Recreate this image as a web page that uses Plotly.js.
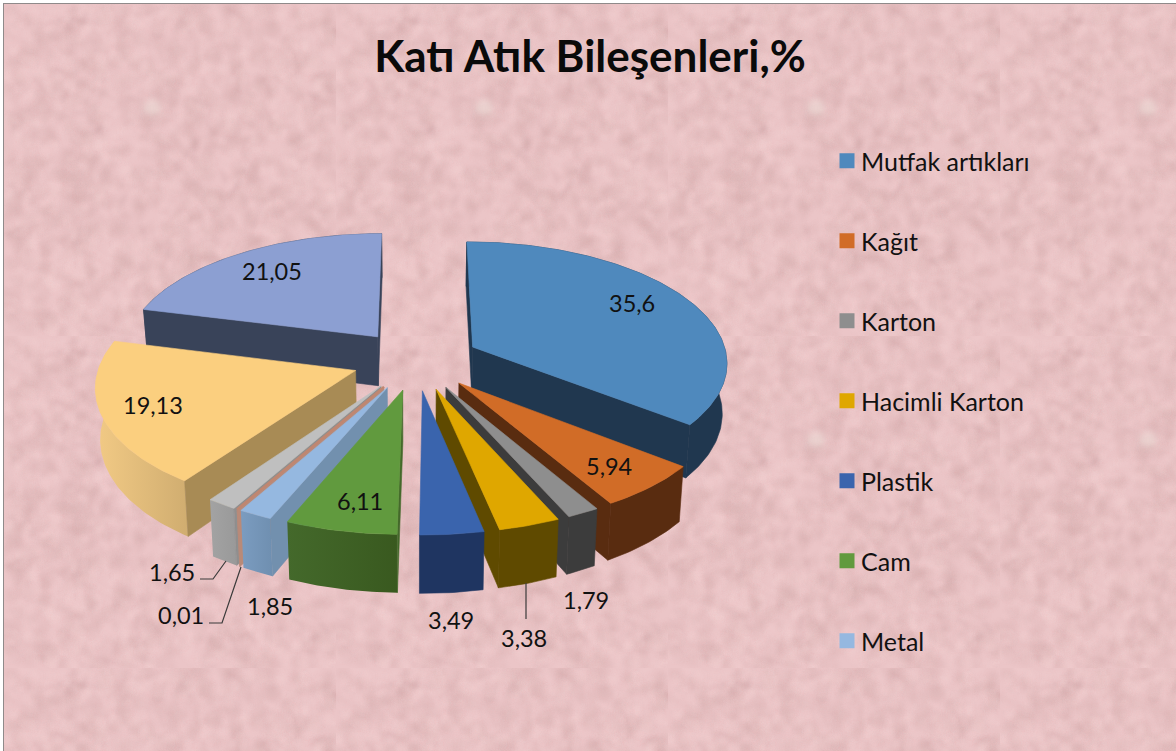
<!DOCTYPE html>
<html><head><meta charset="utf-8">
<script src="https://cdn.plot.ly/plotly-3.0.1.min.js"></script>
<style>
html,body{margin:0;padding:0;background:#fff;width:1176px;height:751px;overflow:hidden}
#panel{position:absolute;left:3px;top:3px;width:1173px;height:748px;border-left:1.5px solid #8f8a8a;border-top:1.5px solid #8f8a8a;box-sizing:border-box}
#chart{position:absolute;left:0;top:0;width:1176px;height:751px}
</style></head><body>
<div id="panel"></div><div id="chart"></div>
<script>
// ---- data ----
const values = [35.6, 5.94, 1.79, 3.38, 3.49, 6.11, 1.85, 0.01, 1.65, 19.13, 21.05];
const legendLabels = ["Mutfak artıkları", "Kağıt", "Karton", "Hacimli Karton", "Plastik", "Cam", "Metal"];
const chartTitle = "Katı Atık Bileşenleri,%";

// ---- styles ----
const topColors = ["#4f89bd","#d16c27","#8e8e8e","#dfa700","#3a64ad","#619a3e","#95b8e0","#c08670","#bfbfbf","#fbcf7f","#8c9fd2"];
const faceColors = ["#20374f","#592c10","#3c3c3c","#5f4a00","#1f3561","#44692b","#7290ae","#b98a78","#8f8f8f","#a88b55","#394359"];
const wallA = ["#20374f","#592c10","#3c3c3c","#5f4a00","#1f3561","#44692b","#7b9cc0","#b98a78","#a3a3a3","#f2ca85","#394359"];
const wallB = ["#20374f","#592c10","#3c3c3c","#5f4a00","#1f3561","#39591f","#6f8fb0","#b98a78","#999999","#d0ad70","#394359"];
const legendColors = ["#4f89bd","#d16c27","#8e8e8e","#dfa700","#3a64ad","#619a3e","#95b8e0"];
const labelX = [632,609,586,524,451,360,270,181,172,153,272];
const labelY = [303,466,600,638,620,501,606,615,572,405,271];
const leaders = [
  {x:[200,213,226], y:[579,579,561]},
  {x:[209,222,241], y:[623,623,567]},
  {x:[526,526], y:[583,619]}
];

// ---- perspective projection of the exploded 3D pie onto pixel-scaled hidden axes ----
const CX=416, CY=360, R=255, T=120, PERSP=0.115, EXPLODE=0.25, DEPTH=50, CONVERGE=0.985;
const rad=d=>d*Math.PI/180;
const total=values.reduce((a,b)=>a+b,0);
let cum=0;
const slices=values.map((v,i)=>{
  const t0=cum/total*360; cum+=v; const t1=cum/total*360; const m=(t0+t1)/2;
  return {i,t0,t1,m,ex:EXPLODE*Math.sin(rad(m)),ey:-EXPLODE*Math.cos(rad(m)),order:-Math.cos(rad(m))};
});
function pt(s,X,Y){
  const yy=s.ey+Y,k=1/(1-PERSP*yy),x=CX+(s.ex+X)*R*k;
  return {x:x,y:CY+yy*T*k,d:DEPTH*k,bx:CX+(x-CX)*CONVERGE};
}
const onArc=(s,deg)=>pt(s,Math.sin(rad(deg)),-Math.cos(rad(deg)));
const traces=[];
function poly(xs,ys,color,lw){
  traces.push({type:"scatter",mode:"lines",x:xs.concat(xs[0]),y:ys.concat(ys[0]),fill:"toself",fillcolor:color,
    line:{color:color,width:lw===undefined?0.6:lw},hoverinfo:"skip",showlegend:false});
}
function gradPoly(xs,ys,a,b){
  traces.push({type:"scatter",mode:"lines",x:xs.concat(xs[0]),y:ys.concat(ys[0]),fill:"toself",
    fillgradient:{type:"horizontal",colorscale:[[0,a],[1,b]]},
    line:{color:"rgba(0,0,0,0)",width:0},hoverinfo:"skip",showlegend:false});
}
slices.slice().sort((a,b)=>a.order-b.order).forEach(s=>{
  const apex=pt(s,0,0);
  const arc=[],n=Math.max(2,Math.ceil(s.t1-s.t0));
  for(let j=0;j<=n;j++) arc.push(onArc(s,s.t0+(s.t1-s.t0)*j/n));
  // outer wall
  const wx=arc.map(p=>p.x).concat(arc.slice().reverse().map(p=>p.bx));
  const wy=arc.map(p=>p.y).concat(arc.slice().reverse().map(p=>p.y+p.d));
  if(wallA[s.i]===wallB[s.i]) poly(wx,wy,wallA[s.i]); else gradPoly(wx,wy,wallA[s.i],wallB[s.i]);
  // radial faces, only those turned to the viewer
  const face=p=>poly([apex.x,p.x,p.bx,apex.bx],[apex.y,p.y,p.y+p.d,apex.y+apex.d],faceColors[s.i]);
  if(Math.sin(rad(s.t0))<0.005) face(arc[0]);
  if(Math.sin(rad(s.t1))>-0.005) face(arc[arc.length-1]);
  // top
  poly([apex.x].concat(arc.map(p=>p.x)),[apex.y].concat(arc.map(p=>p.y)),topColors[s.i],(s.t1-s.t0)<1?2.4:0.6);
});
leaders.forEach(l=>traces.push({type:"scatter",mode:"lines",x:l.x,y:l.y,line:{color:"#3a3a3a",width:1.2},hoverinfo:"skip",showlegend:false}));
legendLabels.forEach((name,i)=>traces.push({type:"scatter",mode:"markers",name:name,x:[null],y:[null],legendgroup:"g"+i,
  marker:{symbol:"square",size:15,color:legendColors[i]},showlegend:true}));

const annotations=values.map((v,i)=>({x:labelX[i],y:labelY[i],xref:"x",yref:"y",showarrow:false,
  text:String(v).replace(".",","),font:{family:"Lato, Carlito, sans-serif",size:23.5,color:"#111"}}));

// mottled paper background
(function(){
  const c=document.createElement("canvas");c.width=c.height=332;const g=c.getContext("2d");
  g.fillStyle="#ebc5c7";g.fillRect(0,0,332,332);
  let seed=12345;const rnd=()=>{seed=(seed*1664525+1013904223)%4294967296;return seed/4294967296;};
  g.filter="blur(2px)";
  for(let i=0;i<2200;i++){
    const x=rnd()*332,y=rnd()*332,rx=2+rnd()*10,ry=2+rnd()*6,light=rnd()<0.5;
    g.fillStyle=light?"rgba(246,216,216,0.15)":"rgba(204,164,166,0.14)";
    g.beginPath();g.ellipse(x,y,rx,ry,rnd()*3.14,0,6.3);g.fill();
  }
  for(let i=0;i<60;i++){
    const x=rnd()*332,y=rnd()*332,a=rnd()*6.28,l=8+rnd()*16;
    g.strokeStyle="rgba(175,130,134,0.28)";g.lineWidth=1.5;
    g.beginPath();g.moveTo(x,y);g.lineTo(x+Math.cos(a)*l,y+Math.sin(a)*l);g.stroke();
  }
  g.filter="blur(3px)";
  g.fillStyle="rgba(240,228,222,0.5)";g.beginPath();g.ellipse(148,104,9,8,0,0,6.3);g.fill();
  g.filter="none";
  const p=document.getElementById("panel");
  p.style.backgroundImage="url("+c.toDataURL()+")";p.style.backgroundSize="332px 332px";
})();

Plotly.newPlot("chart",traces,{
  width:1176,height:751,autosize:false,margin:{l:0,r:0,t:0,b:0,pad:0},
  paper_bgcolor:"rgba(0,0,0,0)",plot_bgcolor:"rgba(0,0,0,0)",
  title:{text:"<b>"+chartTitle+"</b>",x:590/1176,xanchor:"center",y:1-57/751,yanchor:"middle",
    font:{family:"Lato, Carlito, sans-serif",size:44,color:"#0a0a0a"}},
  xaxis:{range:[0,1176],visible:false,fixedrange:true},
  yaxis:{range:[751,0],visible:false,fixedrange:true},
  showlegend:true,
  legend:{x:821/1176,y:1-138/751,xanchor:"left",yanchor:"top",tracegroupgap:44.5,itemwidth:30,
    bgcolor:"rgba(0,0,0,0)",font:{family:"Lato, Carlito, sans-serif",size:25,color:"#111"}},
  annotations:annotations
},{staticPlot:true,displayModeBar:false}).then(()=>{
  document.querySelectorAll(".legend .legendsymbols").forEach(n=>n.setAttribute("transform","translate(6,0)"));
});
</script>
</body></html>
